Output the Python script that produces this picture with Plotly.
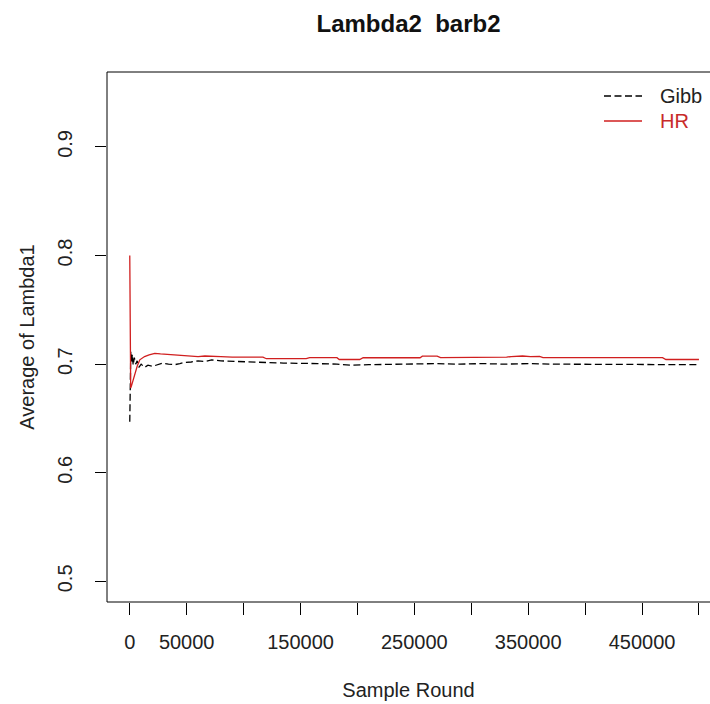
import plotly.graph_objects as go

# Running averages of Lambda1 by sample round, two samplers
gibb_rounds = [0, 400, 900, 1500, 2200, 3000, 4000, 5200, 6500, 8000, 10000, 13000,
               16000, 20000, 25000, 29000, 34000, 39500, 44000, 48000, 54000, 60000,
               66000, 72000, 80000, 90000, 100000, 110000, 120000, 135000, 150000,
               165000, 182000, 195000, 210000, 230000, 250000, 270000, 290000, 310000,
               330000, 350000, 370000, 400000, 430000, 460000, 480000, 500000]
gibb_values = [0.647, 0.690, 0.712, 0.701, 0.709, 0.699, 0.706, 0.700, 0.703, 0.697,
               0.700, 0.697, 0.699, 0.698, 0.6995, 0.701, 0.700, 0.6995, 0.7005, 0.7015,
               0.702, 0.703, 0.7025, 0.704, 0.703, 0.7025, 0.702, 0.7015, 0.7015, 0.701,
               0.701, 0.7005, 0.700, 0.699, 0.6995, 0.700, 0.700, 0.7005, 0.700, 0.7005,
               0.700, 0.7005, 0.700, 0.700, 0.700, 0.6995, 0.6995, 0.6995]

hr_rounds = [0, 300, 800, 1500, 2500, 4400, 6500, 8800, 13000, 17000, 22000, 27000,
             33000, 40000, 45000, 52000, 60000, 66000, 72000, 80000, 90000, 100000,
             117000, 120000, 155000, 158000, 182000, 184000, 202000, 205000, 255000,
             257000, 270000, 273000, 290000, 331000, 335000, 345000, 352000, 360000,
             363000, 468000, 471000, 492000, 500000]
hr_values = [0.800, 0.720, 0.678, 0.680, 0.684, 0.690, 0.698, 0.704, 0.707, 0.7085,
             0.710, 0.7095, 0.709, 0.7085, 0.7085, 0.708, 0.707, 0.7075, 0.707, 0.707,
             0.7065, 0.7064, 0.7064, 0.705, 0.705, 0.706, 0.706, 0.7043, 0.7043, 0.7059,
             0.7059, 0.7074, 0.7074, 0.706, 0.706, 0.7064, 0.707, 0.7075, 0.707, 0.7072,
             0.706, 0.706, 0.7043, 0.7043, 0.7043]

x_ticks = [0, 50000, 100000, 150000, 200000, 250000, 300000, 350000, 400000, 450000, 500000]
x_tick_labels = ["0", "50000", "", "150000", "", "250000", "", "350000", "", "450000", ""]
y_ticks = [0.5, 0.6, 0.7, 0.8, 0.9]
y_tick_labels = ["0.5", "0.6", "0.7", "0.8", "0.9"]

RED = "#d01f1f"
RED_TEXT = "#c82a2a"
FONT = "Liberation Sans, Arial, sans-serif"
GIBB_DASH = "7px,3.5px"

# plot area in pixels: left 107, top 72, bottom 602, width 603
L, T, B, W = 107, 72, 602, 603


def px_x(px):
    return (px - L) / W


def px_y(py):
    return (B - py) / (B - T)


fig = go.Figure()
fig.add_trace(go.Scatter(
    x=gibb_rounds, y=gibb_values, mode="lines", name="Gibb", showlegend=False,
    line=dict(color="black", width=1.3, dash=GIBB_DASH),
))
fig.add_trace(go.Scatter(
    x=hr_rounds, y=hr_values, mode="lines", name="HR", showlegend=False,
    line=dict(color=RED, width=1.3),
))

# plot frame (right side runs past the page edge)
fig.add_shape(type="rect", xref="paper", yref="paper", x0=0, x1=1.03, y0=0, y1=1,
              line=dict(color="black", width=1))

# legend, top right, no box
legend_items = [("Gibb", "black", GIBB_DASH, "#222", 96),
                ("HR", RED, "solid", RED_TEXT, 121)]
for label, lcolor, ldash, tcolor, py in legend_items:
    fig.add_shape(type="line", xref="paper", yref="paper",
                  x0=px_x(604), x1=px_x(642), y0=px_y(py), y1=px_y(py),
                  line=dict(color=lcolor, width=1.3, dash=ldash))
    fig.add_annotation(text=label, xref="paper", yref="paper", x=px_x(658), y=px_y(py),
                       xanchor="left", yanchor="middle", showarrow=False,
                       font=dict(size=20, color=tcolor, family=FONT))

fig.update_layout(
    width=710, height=704,
    margin=dict(l=L, r=0, t=T, b=704 - B),
    paper_bgcolor="white", plot_bgcolor="white",
    font=dict(family=FONT, size=20, color="#222"),
    title=dict(text="<b>Lambda2  barb2</b>", x=0.5, xref="paper", xanchor="center",
               y=1 - 24 / 704, yref="container", yanchor="middle",
               font=dict(size=24, color="#111", family=FONT)),
    showlegend=False,
    xaxis=dict(range=[-20000, 509700], tickmode="array", tickvals=x_ticks,
               ticktext=x_tick_labels, ticks="outside", ticklen=12, tickwidth=1,
               tickcolor="black", showgrid=False, zeroline=False, showline=False,
               ticklabelstandoff=10, tickfont=dict(size=20),
               title=dict(text="Sample Round", standoff=30, font=dict(size=20)),
               automargin=False),
    yaxis=dict(range=[0.481, 0.969], tickmode="array", tickvals=y_ticks,
               ticktext=y_tick_labels, ticks="outside", ticklen=11, tickwidth=1,
               tickcolor="black", showgrid=False, zeroline=False, showline=False,
               tickangle=-90, ticklabelstandoff=15, tickfont=dict(size=20),
               title=dict(text="Average of Lambda1", standoff=14, font=dict(size=20)),
               automargin=False),
)

fig.write_html("out.html")
